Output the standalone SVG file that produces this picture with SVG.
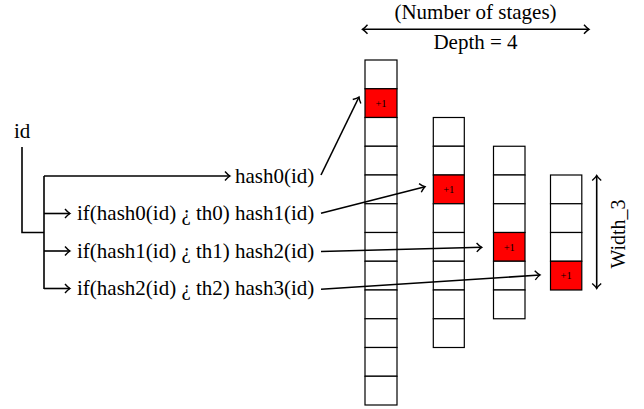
<svg xmlns="http://www.w3.org/2000/svg" width="644" height="409" viewBox="0 0 644 409">
<style>
.t{font-size:21px}
.p{font-size:10.5px;text-anchor:middle}
.c{fill:#fff;stroke:#000;stroke-width:1.2}
.r{fill:#ff0000;stroke:#000;stroke-width:1.2}
.l{fill:none;stroke:#000;stroke-width:1.6}
</style>
<defs>
<marker id="ah" viewBox="-7 -6 9 12" markerWidth="9" markerHeight="12" refX="0" refY="0" orient="auto" markerUnits="userSpaceOnUse">
<path d="M-5,-4.5 Q-2.2,-1.2 0,0 Q-2.2,1.2 -5,4.5" fill="none" stroke="#000" stroke-width="1.4"/>
</marker>
<marker id="as" viewBox="-7 -6 9 12" markerWidth="9" markerHeight="12" refX="0" refY="0" orient="auto-start-reverse" markerUnits="userSpaceOnUse">
<path d="M-5,-4.5 Q-2.2,-1.2 0,0 Q-2.2,1.2 -5,4.5" fill="none" stroke="#000" stroke-width="1.4"/>
</marker>
</defs>

<g id="labels" font-family="Liberation Serif, Times New Roman, serif" fill="#000">
<text class="t" x="14" y="138">id</text>
<text class="t" x="235" y="183">hash0(id)</text>
<text class="t" x="77" y="220.3">if(hash0(id) ¿ th0) hash1(id)</text>
<text class="t" x="77" y="257.8">if(hash1(id) ¿ th1) hash2(id)</text>
<text class="t" x="77" y="295.3">if(hash2(id) ¿ th2) hash3(id)</text>
<text class="t" x="475.5" y="19" text-anchor="middle">(Number of stages)</text>
<text class="t" x="475.5" y="49" text-anchor="middle">Depth = 4</text>
<text transform="translate(625,234) rotate(-90)" text-anchor="middle" font-size="20">Width_3</text>
</g>

<g id="stage0" font-family="Liberation Serif, Times New Roman, serif">
<rect class="c" x="365" y="60" width="32" height="28.75"/>
<rect class="r" x="365" y="88.75" width="32" height="28.75"/>
<rect class="c" x="365" y="117.5" width="32" height="28.75"/>
<rect class="c" x="365" y="146.25" width="32" height="28.75"/>
<rect class="c" x="365" y="175" width="32" height="28.75"/>
<rect class="c" x="365" y="203.75" width="32" height="28.75"/>
<rect class="c" x="365" y="232.5" width="32" height="28.75"/>
<rect class="c" x="365" y="261.25" width="32" height="28.75"/>
<rect class="c" x="365" y="290" width="32" height="28.75"/>
<rect class="c" x="365" y="318.75" width="32" height="28.75"/>
<rect class="c" x="365" y="347.5" width="32" height="28.75"/>
<rect class="c" x="365" y="376.25" width="32" height="28.75"/>
<text class="p" x="381" y="106.8">+1</text>
</g>

<g id="stage1" font-family="Liberation Serif, Times New Roman, serif">
<rect class="c" x="433.3" y="117.5" width="31" height="28.75"/>
<rect class="c" x="433.3" y="146.25" width="31" height="28.75"/>
<rect class="r" x="433.3" y="175" width="31" height="28.75"/>
<rect class="c" x="433.3" y="203.75" width="31" height="28.75"/>
<rect class="c" x="433.3" y="232.5" width="31" height="28.75"/>
<rect class="c" x="433.3" y="261.25" width="31" height="28.75"/>
<rect class="c" x="433.3" y="290" width="31" height="28.75"/>
<rect class="c" x="433.3" y="318.75" width="31" height="28.75"/>
<text class="p" x="448.8" y="193">+1</text>
</g>

<g id="stage2" font-family="Liberation Serif, Times New Roman, serif">
<rect class="c" x="493.5" y="146.25" width="31.5" height="28.75"/>
<rect class="c" x="493.5" y="175" width="31.5" height="28.75"/>
<rect class="c" x="493.5" y="203.75" width="31.5" height="28.75"/>
<rect class="r" x="493.5" y="232.5" width="31.5" height="28.75"/>
<rect class="c" x="493.5" y="261.25" width="31.5" height="28.75"/>
<rect class="c" x="493.5" y="290" width="31.5" height="28.75"/>
<text class="p" x="509.3" y="250.5">+1</text>
</g>

<g id="stage3" font-family="Liberation Serif, Times New Roman, serif">
<rect class="c" x="550.5" y="175" width="31.3" height="28.75"/>
<rect class="c" x="550.5" y="203.75" width="31.3" height="28.75"/>
<rect class="c" x="550.5" y="232.5" width="31.3" height="28.75"/>
<rect class="r" x="550.5" y="261.25" width="31.3" height="28.75"/>
<text class="p" x="566.2" y="279.3">+1</text>
</g>

<g id="connectors">
<path class="l" d="M22,147 V232.5 H44"/>
<path class="l" d="M44,176 V289"/>
<path class="l" d="M44,176 H230" marker-end="url(#ah)"/>
<path class="l" d="M44,213.5 H70" marker-end="url(#ah)"/>
<path class="l" d="M44,251 H70" marker-end="url(#ah)"/>
<path class="l" d="M44,288.5 H70" marker-end="url(#ah)"/>
<path class="l" d="M321,175 L359,97" marker-end="url(#ah)"/>
<path class="l" d="M321,213.3 L425,186.7" marker-end="url(#ah)"/>
<path class="l" d="M321,251.5 L481.7,247.3" marker-end="url(#ah)"/>
<path class="l" d="M321,289.3 L540,275" marker-end="url(#ah)"/>
<path class="l" d="M362.5,29.3 H589" marker-start="url(#as)" marker-end="url(#as)"/>
<path class="l" d="M596.7,175.5 V288.5" marker-start="url(#as)" marker-end="url(#as)"/>
</g>
</svg>
